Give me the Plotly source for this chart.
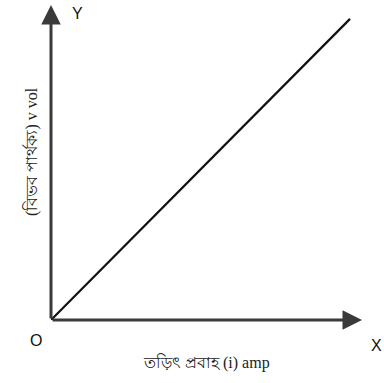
import plotly.graph_objects as go

# Ohm's law: voltage rises linearly with current
current = [0, 10]
voltage = [0, 10]

x_max = 10.4
y_max = 10.46

fig = go.Figure()
fig.add_trace(go.Scatter(
    x=current, y=voltage, mode="lines",
    line=dict(color="#111111", width=2.2),
    hoverinfo="skip", showlegend=False,
))

axis_color = "#3a3a3a"
common = dict(showgrid=False, zeroline=False, showticklabels=False, ticks="",
              showline=False, fixedrange=True)
fig.update_xaxes(range=[0, x_max], **common)
fig.update_yaxes(range=[0, y_max], **common)

# axes drawn as arrows from the origin
fig.add_annotation(x=x_max, y=0, ax=0, ay=0, xref="x", yref="y", axref="x", ayref="y",
                   showarrow=True, arrowhead=2, arrowsize=1.3, arrowwidth=3,
                   arrowcolor=axis_color, text="")
fig.add_annotation(x=0, y=y_max, ax=0, ay=0, xref="x", yref="y", axref="x", ayref="y",
                   showarrow=True, arrowhead=2, arrowsize=1.3, arrowwidth=3,
                   arrowcolor=axis_color, text="")

label_font = dict(family="Liberation Sans, Arial", size=16, color="#111111")
fig.add_annotation(x=0, y=0, xref="x", yref="y", text="O", showarrow=False,
                   xshift=-15, yshift=-20, font=label_font)
fig.add_annotation(x=x_max, y=0, xref="x", yref="y", text="X", showarrow=False,
                   xshift=14, yshift=-25, font=label_font)
fig.add_annotation(x=0, y=y_max, xref="x", yref="y", text="Y", showarrow=False,
                   xshift=26, yshift=-8, font=label_font)

fig.add_annotation(x=0.5, y=-0.17, xref="paper", yref="paper",
                   text="তড়িৎ প্রবাহ (i) amp", showarrow=False,
                   font=dict(family="Liberation Serif, Noto Sans, serif", size=16, color="#222222"))
fig.add_annotation(x=-0.1, y=0.535, xref="paper", yref="paper",
                   text="(বিভব পার্থক্য) v vol", showarrow=False, textangle=-90,
                   font=dict(family="Liberation Serif, Noto Sans, serif", size=16, color="#222222"))

fig.update_layout(
    width=384, height=383,
    margin=dict(l=51, r=22, t=5, b=63),
    paper_bgcolor="white", plot_bgcolor="white",
)

fig.write_html("out.html", config={"displayModeBar": False})
